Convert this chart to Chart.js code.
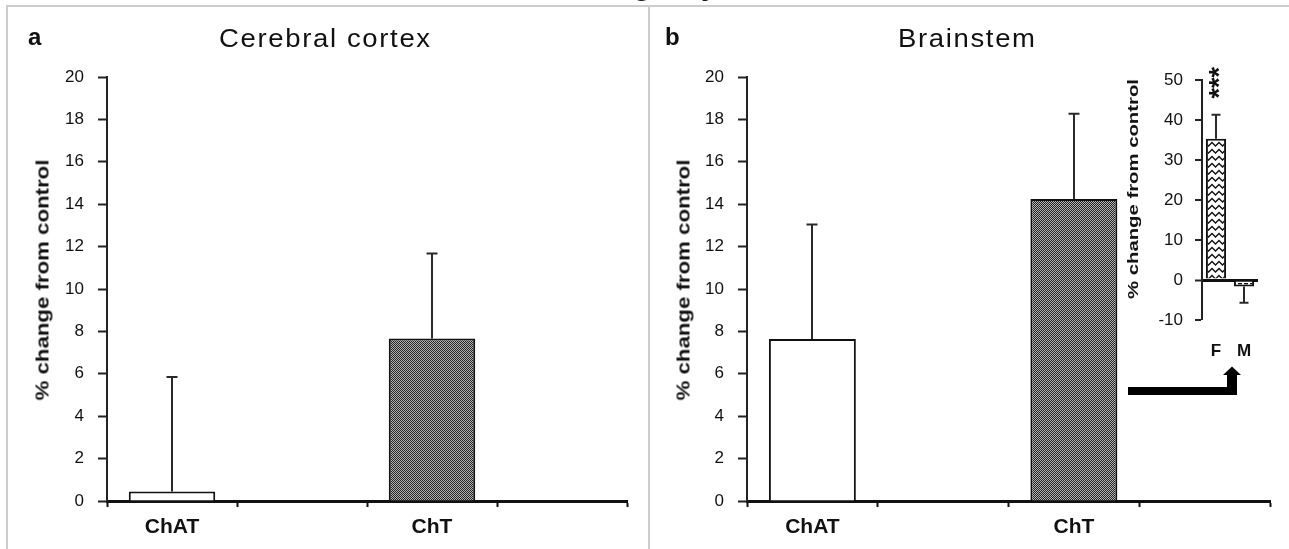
<!DOCTYPE html>
<html><head><meta charset="utf-8">
<script src="https://cdn.jsdelivr.net/npm/chart.js@4.4.1/dist/chart.umd.min.js"></script>
<style>
html,body{margin:0;padding:0;background:#fff;}
body{width:1289px;height:549px;position:relative;overflow:hidden;font-family:'Liberation Sans',Arial,sans-serif;color:#111;}
.abs{position:absolute;white-space:nowrap;line-height:1;}
canvas{position:absolute;}
.frameA{position:absolute;left:6px;top:5px;width:640px;height:600px;border:2px solid #cdcdcd;}
.frameB{position:absolute;left:650px;top:5px;width:700px;height:600px;border-top:2px solid #cdcdcd;}
.txt{z-index:5;}
.ytitle{position:absolute;white-space:nowrap;line-height:1;font-weight:bold;z-index:5;}
</style></head>
<body>
<div class="frameA"></div>
<div class="frameB"></div>
<div class="abs txt" style="left:633px;top:-30px;font-size:30px;font-weight:bold;">g</div>
<div class="abs txt" style="left:701px;top:-30px;font-size:30px;font-weight:bold;">y</div>

<canvas id="ca" width="649" height="549" style="left:0;top:0;width:649px;height:549px;"></canvas>
<canvas id="cb" width="640" height="549" style="left:649px;top:0;width:640px;height:549px;"></canvas>
<canvas id="ci" width="189" height="360" style="left:1100px;top:50px;width:189px;height:360px;z-index:3;"></canvas>

<div class="abs txt" style="left:28px;top:25px;font-size:24px;font-weight:bold;">a</div>
<div class="abs txt" style="left:219px;top:26px;font-size:25px;letter-spacing:1.5px;transform:scaleX(1.1);transform-origin:0 0;">Cerebral cortex</div>
<div class="abs txt" style="left:665px;top:25px;font-size:24px;font-weight:bold;">b</div>
<div class="abs txt" style="left:898px;top:26px;font-size:25px;letter-spacing:1.5px;transform:scaleX(1.1);transform-origin:0 0;">Brainstem</div>

<div class="ytitle" style="left:42px;top:280px;font-size:19px;transform:translate(-50%,-50%) rotate(-90deg) scaleX(1.17);">% change from control</div>
<div class="ytitle" style="left:683px;top:280px;font-size:19px;transform:translate(-50%,-50%) rotate(-90deg) scaleX(1.17);">% change from control</div>
<div class="ytitle" style="left:1133px;top:189px;font-size:14px;transform:translate(-50%,-50%) rotate(-90deg) scaleX(1.45);">% change from control</div>

<script>
// ---- data ----
const categories = ['ChAT', '', 'ChT', ''];
const cortexMeans = [0.45, null, 7.67, null];
const cortexErrors = [5.4, null, 4.0, null];
const brainstemMeans = [7.64, null, 14.24, null];
const brainstemErrors = [5.4, null, 4.03, null];
const insetCategories = ['F', 'M'];
const insetMeans = [35.3, -1.6];
const insetErrors = [6.0, 4.1];
const insetSignificance = ['***', ''];
const mainYRange = [0, 20, 2];     // min, max, step
const insetYRange = [-10, 50, 10]; // min, max, step

Chart.defaults.font.family = "'Liberation Sans', Arial, sans-serif";
Chart.defaults.color = '#111';

function makePattern(w, h, draw) {
  const c = document.createElement('canvas');
  c.width = w; c.height = h;
  const x = c.getContext('2d');
  draw(x);
  return x.createPattern(c, 'repeat');
}
const checker = makePattern(2, 2, x => {
  x.fillStyle = '#b4b4b4'; x.fillRect(0, 0, 2, 2);
  x.fillStyle = '#222222'; x.fillRect(0, 0, 1, 1); x.fillRect(1, 1, 1, 1);
});
const zigzag = makePattern(7, 7, x => {
  x.fillStyle = '#fff'; x.fillRect(0, 0, 7, 7);
  x.strokeStyle = '#111'; x.lineWidth = 1.3;
  x.beginPath(); x.moveTo(-0.5, 1); x.lineTo(3.5, 5); x.lineTo(7.5, 1); x.stroke();
});
const dashes = makePattern(6, 4, x => {
  x.fillStyle = '#fff'; x.fillRect(0, 0, 6, 4);
  x.fillStyle = '#111'; x.fillRect(0, 1, 4, 1.5);
});

const errorBars = {
  id: 'errorBars',
  afterDatasetsDraw(chart, args, opts) {
    const ctx = chart.ctx, y = chart.scales.y;
    const meta = chart.getDatasetMeta(0);
    const vals = chart.data.datasets[0].data;
    ctx.save();
    ctx.strokeStyle = opts.color; ctx.lineWidth = opts.width;
    meta.data.forEach((bar, i) => {
      const v = vals[i], e = opts.errors[i];
      if (v == null || e == null) return;
      const tip = v >= 0 ? v + e : v - e;
      const x = Math.round(bar.x);
      const y0 = y.getPixelForValue(v), y1 = y.getPixelForValue(tip);
      ctx.beginPath();
      ctx.moveTo(x, y0); ctx.lineTo(x, y1);
      ctx.moveTo(x - opts.cap / 2, y1); ctx.lineTo(x + opts.cap / 2, y1);
      ctx.stroke();
    });
    ctx.restore();
  }
};

function mainChart(id, means, errors, yWidth, padRight) {
  return new Chart(document.getElementById(id), {
    type: 'bar',
    data: {
      labels: categories,
      datasets: [{
        data: means,
        backgroundColor: ['#ffffff', '#ffffff', checker, checker],
        borderColor: '#111', borderWidth: 2,
        barPercentage: 0.665, categoryPercentage: 1
      }]
    },
    options: {
      responsive: false, animation: false, devicePixelRatio: 1,
      layout: { padding: { top: 77, right: padRight, left: 0, bottom: 0 } },
      plugins: {
        legend: { display: false }, tooltip: { enabled: false },
        errorBars: { errors: errors, color: '#2a2a2a', width: 2, cap: 11 }
      },
      scales: {
        x: {
          offset: true,
          grid: { display: true, drawOnChartArea: false, drawTicks: true, tickLength: 6, tickWidth: 2, tickColor: '#111', offset: true },
          border: { display: true, color: '#111', width: 3 },
          ticks: { font: { size: 21, weight: 'bold' }, color: '#111', padding: 8, maxRotation: 0, autoSkip: false },
          afterFit(s) { s.height = 48; }
        },
        y: {
          min: mainYRange[0], max: mainYRange[1],
          ticks: { stepSize: mainYRange[2], font: { size: 17 }, color: '#111', padding: 14 },
          grid: { drawOnChartArea: false, drawTicks: true, tickLength: 9, tickWidth: 2, tickColor: '#222' },
          border: { display: true, color: '#222', width: 2 },
          afterFit(s) { s.width = yWidth; }
        }
      }
    },
    plugins: [errorBars]
  });
}

mainChart('ca', cortexMeans, cortexErrors, 107, 22);
mainChart('cb', brainstemMeans, brainstemErrors, 98, 19);

const insetExtras = {
  id: 'insetExtras',
  afterDraw(chart) {
    const ctx = chart.ctx, a = chart.chartArea, y = chart.scales.y;
    const meta = chart.getDatasetMeta(0);
    insetSignificance.forEach((t, i) => {
      if (!t) return;
      const bar = meta.data[i];
      const py = y.getPixelForValue(insetMeans[i] + insetErrors[i]) - 32;
      ctx.save();
      ctx.translate(bar.x + 5, py);
      ctx.rotate(-Math.PI / 2);
      ctx.font = "bold 27px 'Liberation Sans', Arial";
      ctx.textAlign = 'center'; ctx.textBaseline = 'middle';
      ctx.fillStyle = '#111';
      ctx.fillText(t, 0, 0);
      ctx.restore();
    });
    // pointer arrow (annotation)
    const L = a.left, B = a.bottom;
    ctx.save();
    ctx.fillStyle = '#000';
    ctx.beginPath();
    ctx.moveTo(L - 74, B + 67);
    ctx.lineTo(L + 25, B + 67);
    ctx.lineTo(L + 25, B + 55);
    ctx.lineTo(L + 21, B + 55);
    ctx.lineTo(L + 30, B + 46.5);
    ctx.lineTo(L + 39, B + 55);
    ctx.lineTo(L + 35, B + 55);
    ctx.lineTo(L + 35, B + 75);
    ctx.lineTo(L - 74, B + 75);
    ctx.closePath();
    ctx.fill();
    ctx.restore();
  }
};

new Chart(document.getElementById('ci'), {
  type: 'bar',
  data: {
    labels: insetCategories,
    datasets: [{
      data: insetMeans,
      backgroundColor: [zigzag, dashes],
      borderColor: '#111', borderWidth: 2,
      barPercentage: 0.72, categoryPercentage: 1
    }]
  },
  options: {
    responsive: false, animation: false, devicePixelRatio: 1,
    layout: { padding: { top: 30, right: 31, left: 0, bottom: 0 } },
    plugins: {
      legend: { display: false }, tooltip: { enabled: false },
      errorBars: { errors: insetErrors, color: '#2a2a2a', width: 2, cap: 9 }
    },
    scales: {
      x: {
        offset: true,
        grid: { display: false },
        border: { display: false },
        ticks: { font: { size: 17, weight: 'bold' }, color: '#111', padding: 13, maxRotation: 0, autoSkip: false },
        afterFit(s) { s.height = 90; }
      },
      y: {
        min: insetYRange[0], max: insetYRange[1],
        ticks: { stepSize: insetYRange[2], font: { size: 17 }, color: '#111', padding: 12 },
        grid: {
          drawOnChartArea: true, drawTicks: true, tickLength: 7, tickWidth: 2, tickColor: '#222',
          color: c => (c.tick && c.tick.value === 0) ? '#111' : 'rgba(0,0,0,0)',
          lineWidth: c => (c.tick && c.tick.value === 0) ? 3 : 0
        },
        border: { display: true, color: '#222', width: 2 },
        afterFit(s) { s.width = 102; }
      }
    }
  },
  plugins: [errorBars, insetExtras]
});
</script>
</body></html>
